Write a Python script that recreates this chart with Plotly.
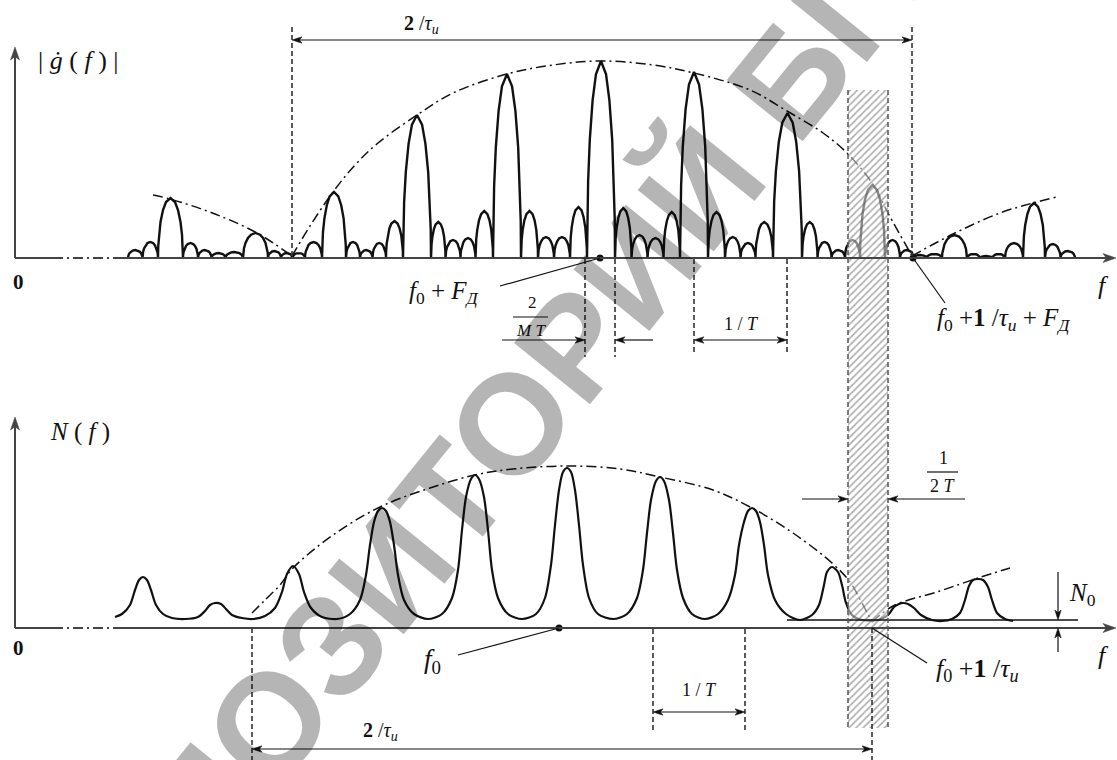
import math
import plotly.graph_objects as go

# ------------------------------------------------------------------
# Values (x: frequency axis units,
# y: vertical drawing units, 0 at the top of the sheet)
# ------------------------------------------------------------------
TOP_AXIS_Y = 258
BOT_AXIS_Y = 628
N0_Y = 620

# |g(f)| : zero crossings of the lobes and lobe heights above the axis
TOP_EDGES = [128, 142.5, 158, 183, 198, 211.5, 225.5, 243, 268, 281, 292.5, 305, 322,
             346, 360, 372.5, 386, 403, 431, 445.5, 460.5, 475.5, 493, 521, 538, 554,
             570, 587, 615, 631.5, 647.5, 663.5, 680, 708, 725, 740.5, 755.5, 773, 802,
             817.5, 831.5, 845, 860, 885, 900, 913.5, 926.5, 942, 967, 980, 992.5, 1005,
             1023, 1045, 1060.5, 1075]
TOP_AMPS = [8, 16, 60, 15, 8, 5, 6, 25, 7, 5,
            5, 16, 66, 16, 8, 15, 37, 143, 36, 18,
            20, 47, 184, 47, 21, 21, 51, 197, 50, 23,
            20, 46, 186, 46, 21, 15, 36, 145, 36, 16,
            8, 18, 73, 18, 8, 3, 4, 23, 4, 2,
            4, 15, 55, 14, 7]
# arch profile of a single lobe (fraction of width, fraction of height)
ARCH_U = [0, 0.01, 0.04, 0.1, 0.2, 0.32, 0.5, 0.68, 0.8, 0.9, 0.96, 0.99, 1]
ARCH_V = [0, 0.2, 0.39, 0.6, 0.8, 0.933, 1, 0.933, 0.8, 0.6, 0.39, 0.2, 0]

# envelopes of |g(f)|
TOP_ENV_X = [292, 310, 333, 355, 378, 417, 453, 507, 553, 601, 653, 694, 750, 787, 823, 847, 872, 888, 912]
TOP_ENV_Y = [256, 226, 192, 165, 143, 115, 93, 74, 65, 61, 65, 73, 90, 111, 133, 153, 183, 213, 256]
TOP_ENV_L_X = [153, 170, 215, 257, 292]
TOP_ENV_L_Y = [195, 199, 214, 233, 256]
TOP_ENV_R_X = [912, 953, 1000, 1033, 1057]
TOP_ENV_R_Y = [256, 234, 213, 203, 197]

# N(f) curve
N_X = [115, 122, 130, 135, 139, 143, 147, 151, 156, 163, 172, 185, 198, 205, 210, 215, 221, 226, 232, 242, 253,
       265, 275, 282, 287, 293, 299, 304, 311, 322, 337,
       350, 360, 366, 370, 374, 378, 382, 386, 390, 394, 398, 404, 414, 428,
       442, 452, 458, 462, 466, 471, 475, 479, 484, 488, 492, 498, 508, 522,
       536, 545, 551, 555, 559, 563, 567, 571, 575, 579, 583, 589, 598, 613,
       627, 637, 643, 647, 651, 656, 660, 664, 669, 673, 677, 683, 692, 705,
       718, 728, 735, 739, 744, 748, 752, 756, 760, 764, 768, 775, 786, 800,
       812, 819, 824, 827, 832, 838, 842, 846, 852, 862, 878,
       888, 894, 899, 903, 908, 914, 921, 932, 942, 952, 960, 965, 969, 973, 978, 983, 988, 992, 997, 1005, 1013]
N_Y = [617, 614, 605, 590, 580, 577, 580, 590, 605, 614, 618, 619, 617, 611, 605, 603, 604, 609, 615, 618, 619,
       616, 608, 592, 574, 566, 574, 592, 608, 617, 619,
       614, 600, 575, 545, 522, 511, 508, 511, 522, 545, 575, 600, 614, 619,
       614, 598, 570, 530, 497, 479, 475, 479, 497, 530, 570, 598, 614, 619,
       614, 598, 565, 525, 490, 472, 468, 472, 490, 525, 565, 598, 614, 619,
       614, 598, 570, 533, 500, 481, 477, 481, 500, 533, 570, 598, 614, 619,
       614, 600, 575, 545, 522, 511, 508, 511, 522, 545, 575, 600, 614, 620,
       615, 605, 585, 572, 567, 572, 585, 603, 615, 620, 620,
       615, 607, 604, 603, 604, 608, 615, 620, 621, 619, 613, 600, 586, 580, 579, 580, 587, 600, 613, 619, 621]

# envelopes of N(f)
BOT_ENV_X = [252, 265, 280, 293, 333, 380, 430, 475, 513, 567, 620, 660, 713, 752, 793, 832, 850, 862, 872]
BOT_ENV_Y = [613, 600, 585, 568, 535, 507, 488, 475, 469, 466, 469, 477, 490, 508, 533, 563, 582, 603, 622]
BOT_ENV_R_X = [872, 893, 940, 978, 1010]
BOT_ENV_R_Y = [622, 606, 591, 578, 568]

# key frequencies (marked points)
F0_TOP = 600          # f0 + F_D
F_EDGE_TOP = 913      # f0 + 1/tau + F_D
F0_BOT = 559          # f0
F_EDGE_BOT = 872      # f0 + 1/tau
BAND = [848, 888]     # hatched filter band

# ------------------------------------------------------------------
INK = "#111111"
AX = "#444444"
DASHDOT = "10px,4px,2px,4px"
SERIF = "Liberation Serif"

fig = go.Figure()

# top spectrum made of lobes
tx, ty = [], []
for i, a in enumerate(TOP_AMPS):
    x0, x1 = TOP_EDGES[i], TOP_EDGES[i + 1]
    for u, v in zip(ARCH_U, ARCH_V):
        tx.append(x0 + u * (x1 - x0))
        ty.append(TOP_AXIS_Y - a * v)
fig.add_trace(go.Scatter(x=tx, y=ty, mode="lines", line=dict(color=INK, width=2.4), hoverinfo="skip"))

for ex, ey in [(TOP_ENV_X, TOP_ENV_Y), (TOP_ENV_L_X, TOP_ENV_L_Y), (TOP_ENV_R_X, TOP_ENV_R_Y),
               (BOT_ENV_X, BOT_ENV_Y), (BOT_ENV_R_X, BOT_ENV_R_Y)]:
    fig.add_trace(go.Scatter(x=ex, y=ey, mode="lines", line=dict(color=INK, width=1.5, dash=DASHDOT,
                                                                   shape="spline", smoothing=1.0),
                             hoverinfo="skip"))

# N(f)
fig.add_trace(go.Scatter(x=N_X, y=N_Y, mode="lines",
                         line=dict(color=INK, width=2.2, shape="spline", smoothing=0.8), hoverinfo="skip"))

# hatched band
fig.add_trace(go.Scatter(x=[BAND[0], BAND[1], BAND[1], BAND[0], BAND[0]], y=[90, 90, 728, 728, 90],
                         mode="lines", line=dict(width=0), fill="toself",
                         fillcolor="rgba(255,255,255,0.5)",
                         fillpattern=dict(shape="/", fgcolor="#555555", bgcolor="rgba(255,255,255,0.5)",
                                          size=5, solidity=0.3),
                         hoverinfo="skip"))

# marked points
fig.add_trace(go.Scatter(x=[F0_TOP, F_EDGE_TOP, F0_BOT], y=[TOP_AXIS_Y, TOP_AXIS_Y, BOT_AXIS_Y],
                         mode="markers", marker=dict(color=INK, size=7), hoverinfo="skip"))

shapes = []


def line(x0, y0, x1, y1, color=INK, width=1.3, dash=None):
    d = dict(type="line", xref="x", yref="y", x0=x0, y0=y0, x1=x1, y1=y1,
             line=dict(color=color, width=width))
    if dash:
        d["line"]["dash"] = dash
    shapes.append(d)


def vdash(x, y0, y1, color="#333333", width=1.6):
    line(x, y0, x, y1, color=color, width=width, dash="5px,3px")


def head(xh, yh, xt, yt, L, w, color):
    dx, dy = xh - xt, yh - yt
    n = math.hypot(dx, dy)
    ux, uy = dx / n, dy / n
    bx, by = xh - ux * L, yh - uy * L
    nx, ny = xh - ux * L * 0.75, yh - uy * L * 0.75
    px, py = -uy * w, ux * w
    shapes.append(dict(type="path", xref="x", yref="y",
                       path=f"M {xh},{yh} L {bx + px},{by + py} L {nx},{ny} L {bx - px},{by - py} Z",
                       fillcolor=color, line=dict(color=color, width=0.5)))
    return ux, uy


def arrow(x_head, y_head, x_tail, y_tail, both=False, width=1.2, L=10, w=3.2, color=INK):
    ux, uy = head(x_head, y_head, x_tail, y_tail, L, w, color)
    xe, ye = x_head - ux * L * 0.6, y_head - uy * L * 0.6
    xs, ys = x_tail, y_tail
    if both:
        head(x_tail, y_tail, x_head, y_head, L, w, color)
        xs, ys = x_tail + ux * L * 0.6, y_tail + uy * L * 0.6
    line(xs, ys, xe, ye, color=color, width=width)


annotations = []


def label(text, x, y, size=19, family=SERIF, color=INK):
    annotations.append(dict(x=x, y=y, xref="x", yref="y", text=text, showarrow=False,
                            font=dict(family=family, size=size, color=color),
                            xanchor="center", yanchor="middle"))


# axes
for base, ytop in [(TOP_AXIS_Y, 47), (BOT_AXIS_Y, 417)]:
    arrow(15, ytop, 15, base, width=2, L=13, w=4.5, color=AX)
    line(15, base, 53, base, color=AX, width=2)
    line(53, base, 120, base, color=AX, width=2, dash=DASHDOT)
    arrow(1116, base, 120, base, width=2, L=13, w=4.5, color=AX)

# N0 level line
line(787, N0_Y, 1078, N0_Y, color=INK, width=1.5)

# band edges and centre
vdash(BAND[0], 90, 728, color="#555555", width=1.5)
vdash(BAND[1], 90, 728, color="#555555", width=1.5)
vdash(F_EDGE_BOT, BOT_AXIS_Y, 760)

# top dimension 2/tau
vdash(292, 27, TOP_AXIS_Y)
vdash(912, 27, TOP_AXIS_Y)
arrow(912, 40, 292, 40, both=True)
label("<b>2</b> /<i>τ</i><sub><i>и</i></sub>", 421, 24, size=20)

# 2/(MT) and 1/T under the top axis
vdash(585, TOP_AXIS_Y + 1, 357)
vdash(615, TOP_AXIS_Y + 1, 357)
vdash(694, TOP_AXIS_Y + 1, 355)
vdash(787, TOP_AXIS_Y + 1, 355)
arrow(585, 340, 502, 340)
arrow(615, 340, 653, 340)
label("2", 532, 302, size=17)
line(513, 317, 548, 317, width=1.2)
label("<i>M T</i>", 531, 330, size=17)
arrow(787, 340, 694, 340, both=True)
label("1 / <i>T</i>", 741, 324, size=18)

# leader labels (top)
line(F0_TOP, TOP_AXIS_Y, 500, 286, width=1.2)
label("<i>f</i><sub>0</sub> + <i>F</i><sub><i>Д</i></sub>", 444, 292, size=25)
line(F_EDGE_TOP, TOP_AXIS_Y, 945, 303, width=1.2)
label("<i>f</i><sub>0</sub> +<b>1</b> /<i>τ</i><sub><i>и</i></sub> + <i>F</i><sub><i>Д</i></sub>",
      1003, 319, size=25)

# axis labels
label("| <i>ġ</i> ( <i>f</i> ) |", 78, 60, size=26)
label("<i>N</i> ( <i>f</i> )", 80, 432, size=25)
label("<b>0</b>", 18, 282, size=21)
label("<b>0</b>", 18, 648, size=21)
label("<i>f</i>", 1103, 285, size=26)
label("<i>f</i>", 1103, 655, size=26)

# bottom: 1/(2T)
arrow(BAND[0], 499, 802, 499)
arrow(BAND[1], 499, 965, 499)
label("1", 943, 458, size=18)
line(927, 472, 958, 472, width=1.2)
label("2 <i>T</i>", 943, 486, size=18)

# N0 marker
arrow(1058, N0_Y, 1058, 572)
arrow(1058, BOT_AXIS_Y, 1058, 652)
label("<i>N</i><sub>0</sub>", 1082, 594, size=25)

# bottom labels
line(F0_BOT, BOT_AXIS_Y, 458, 655, width=1.2)
label("<i>f</i><sub>0</sub>", 432, 661, size=27)
line(F_EDGE_BOT, BOT_AXIS_Y, 927, 663, width=1.2)
label("<i>f</i><sub>0</sub> +<b>1</b> /<i>τ</i><sub><i>и</i></sub>", 977, 670, size=26)

# 1/T bottom
vdash(653, BOT_AXIS_Y + 1, 730)
vdash(745, BOT_AXIS_Y + 1, 730)
arrow(745, 712, 653, 712, both=True)
label("1 / <i>T</i>", 699, 690, size=18)

# bottom 2/tau
vdash(252, BOT_AXIS_Y, 760)
arrow(872, 749, 252, 749, both=True)
label("<b>2</b> /<i>τ</i><sub><i>и</i></sub>", 380, 731, size=20)

# repository watermark
annotations.append(dict(x=551, y=373, xref="x", yref="y", text="<b>РЕПОЗИТОРИЙ БГУИР</b>",
                        showarrow=False, textangle=-51,
                        font=dict(family="Liberation Sans", size=142, color="rgba(0,0,0,0.29)"),
                        xanchor="center", yanchor="middle"))

fig.update_layout(width=1117, height=760, margin=dict(l=0, r=0, t=0, b=0),
                  paper_bgcolor="white", plot_bgcolor="white", showlegend=False,
                  xaxis=dict(range=[0, 1117], visible=False, fixedrange=True),
                  yaxis=dict(range=[760, 0], visible=False, fixedrange=True),
                  shapes=shapes, annotations=annotations)

fig.write_html("out.html", config={"displayModeBar": False},
               post_script="document.body.style.margin='0px';document.body.style.padding='0px';"
                           "document.body.style.overflow='hidden';")
